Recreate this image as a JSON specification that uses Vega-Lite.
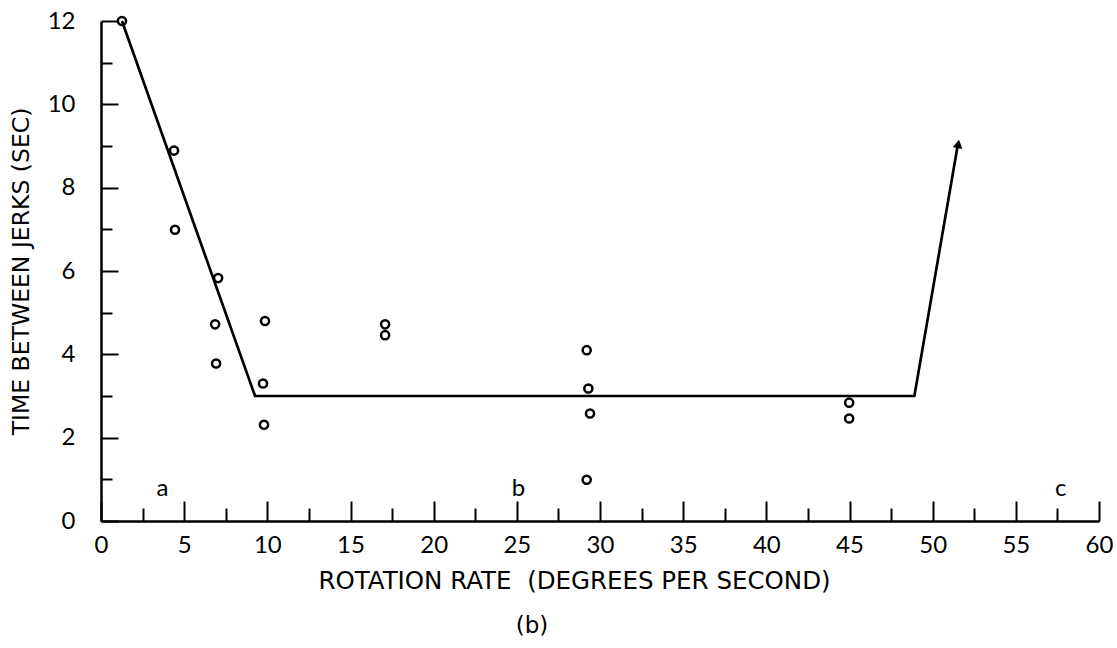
{
  "$schema": "https://vega.github.io/schema/vega-lite/v6.json",
  "width": 998,
  "height": 500,
  "autosize": "none",
  "padding": {"left": 101, "top": 21, "right": 18, "bottom": 127},
  "background": "white",
  "config": {
    "view": {"stroke": null},
    "font": "Lato",
    "axis": {
      "grid": false,
      "domainColor": "black",
      "domainWidth": 2.5,
      "tickColor": "black",
      "tickWidth": 2,
      "labelColor": "black",
      "titleColor": "black",
      "labelFont": "Lato",
      "titleFont": "DejaVu Sans",
      "labelFontSize": 24,
      "titleFontSize": 23,
      "titleFontWeight": "normal",
      "labelFlush": false,
      "labelOverlap": false
    }
  },
  "datasets": {
    "points": [
      {"rotation": 1.26, "time": 12.0},
      {"rotation": 4.39, "time": 8.89},
      {"rotation": 4.45, "time": 6.99},
      {"rotation": 7.04, "time": 5.83},
      {"rotation": 6.86, "time": 4.72},
      {"rotation": 6.92, "time": 3.78},
      {"rotation": 9.86, "time": 4.80},
      {"rotation": 9.74, "time": 3.30},
      {"rotation": 9.80, "time": 2.31},
      {"rotation": 17.08, "time": 4.72},
      {"rotation": 17.08, "time": 4.46},
      {"rotation": 29.2, "time": 4.10},
      {"rotation": 29.3, "time": 3.18},
      {"rotation": 29.4, "time": 2.58},
      {"rotation": 29.2, "time": 0.99},
      {"rotation": 44.98, "time": 2.84},
      {"rotation": 44.98, "time": 2.46}
    ],
    "curve": [
      {"rotation": 1.26, "time": 12.0},
      {"rotation": 9.26, "time": 3.0},
      {"rotation": 48.9, "time": 3.0},
      {"rotation": 51.5, "time": 9.0}
    ],
    "arrow": [
      {"rotation": 51.54, "time": 9.05}
    ],
    "letters": [
      {"rotation": 3.7, "time": 0.77, "label": "a"},
      {"rotation": 25.1, "time": 0.77, "label": "b"},
      {"rotation": 57.7, "time": 0.77, "label": "c"}
    ]
  },
  "layer": [
    {
      "data": {"name": "curve"},
      "mark": {"type": "line", "color": "black", "strokeWidth": 2.7, "clip": false},
      "encoding": {
        "x": {
          "field": "rotation",
          "type": "quantitative",
          "scale": {"domain": [0, 60], "nice": false, "zero": true},
          "axis": {
            "title": "ROTATION RATE \u00a0(DEGREES PER SECOND)",
            "titleFontSize": 24.5,
            "titleX": 473,
            "titleAlign": "center",
            "values": [0, 2.5, 5, 7.5, 10, 12.5, 15, 17.5, 20, 22.5, 25, 27.5, 30, 32.5, 35, 37.5, 40, 42.5, 45, 47.5, 50, 52.5, 55, 57.5, 60],
            "labelExpr": "datum.value % 5 === 0 ? datum.label : ''",
            "tickSize": {"condition": {"test": "datum.value % 5 === 0", "value": -20}, "value": -13},
            "labelPadding": 32,
            "titlePadding": 5
          }
        },
        "y": {
          "field": "time",
          "type": "quantitative",
          "scale": {"domain": [0, 12], "nice": false, "zero": true},
          "axis": {
            "title": "TIME BETWEEN JERKS (SEC)",
            "titleFontSize": 23.5,
            "values": [0, 1, 2, 3, 4, 5, 6, 7, 8, 9, 10, 11, 12],
            "labelExpr": "datum.value % 2 === 0 ? datum.label : ''",
            "tickSize": {"condition": {"test": "datum.value % 2 === 0", "value": -17}, "value": -11},
            "labelPadding": 43,
            "titlePadding": 14
          }
        }
      }
    },
    {
      "data": {"name": "points"},
      "mark": {"type": "point", "shape": "circle", "filled": false, "stroke": "black", "strokeWidth": 2.5, "size": 66, "opacity": 1, "clip": false},
      "encoding": {
        "x": {"field": "rotation", "type": "quantitative"},
        "y": {"field": "time", "type": "quantitative"}
      }
    },
    {
      "data": {"name": "arrow"},
      "mark": {"type": "point", "shape": "triangle-up", "filled": true, "color": "black", "size": 95, "angle": 10, "opacity": 1},
      "encoding": {
        "x": {"field": "rotation", "type": "quantitative"},
        "y": {"field": "time", "type": "quantitative"}
      }
    },
    {
      "data": {"name": "letters"},
      "mark": {"type": "text", "font": "Lato", "fontSize": 24, "color": "black", "baseline": "middle", "align": "center"},
      "encoding": {
        "x": {"field": "rotation", "type": "quantitative"},
        "y": {"field": "time", "type": "quantitative"},
        "text": {"field": "label"}
      }
    }
  ],
  "title": {
    "text": "(b)",
    "orient": "bottom",
    "anchor": "middle",
    "font": "DejaVu Sans",
    "fontSize": 23,
    "fontWeight": "normal",
    "color": "black",
    "offset": 22,
    "dx": -68
  }
}
